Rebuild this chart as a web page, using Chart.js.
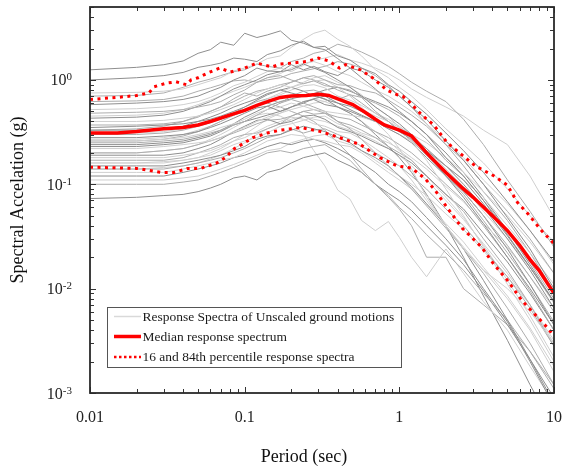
<!DOCTYPE html>
<html><head><meta charset="utf-8">
<script src="https://cdn.jsdelivr.net/npm/chart.js@4/dist/chart.umd.min.js"></script>
<style>html,body{margin:0;padding:0;background:#fff;}canvas{display:block;}</style>
</head><body>
<canvas id="c" width="562" height="468"></canvas>
<script>
// ---------- data ----------
const periods = [0.01,0.02,0.03,0.04,0.05,0.06,0.07,0.085,0.1,0.12,0.14,0.17,0.2,0.24,0.28,0.33,0.4,0.48,0.57,0.7,0.85,1,1.2,1.5,2,2.6,3.5,5,7,10];

const m01 = [1.25,1.32,1.40,1.52,1.80,1.95,2.30,2.15,2.80,2.55,2.70,2.95,2.40,2.25,2.05,2.10,1.70,1.55,1.30,1.15,0.90,0.78,0.62,0.47,0.31,0.21,0.13,0.068,0.036,0.018];
const m02 = [1.00,1.05,1.10,1.18,1.32,1.38,1.45,1.62,1.58,1.50,1.75,1.90,2.15,2.35,2.05,1.95,1.60,1.30,1.05,0.82,0.62,0.50,0.40,0.30,0.18,0.12,0.070,0.033,0.016,0.0075];
const m03 = [0.75,0.76,0.78,0.82,0.90,0.98,1.05,1.22,1.30,1.42,1.60,1.70,2.05,2.45,2.80,3.00,2.45,2.10,1.70,1.25,1.05,0.85,0.70,0.52,0.34,0.24,0.16,0.090,0.050,0.028];
const m04 = [0.70,0.71,0.75,0.85,0.95,1.02,1.10,1.20,1.25,1.42,1.35,1.30,1.50,1.62,1.80,1.90,2.20,2.05,1.85,1.60,1.35,1.15,0.95,0.78,0.62,0.42,0.24,0.11,0.055,0.025];
const m05 = [0.58,0.60,0.62,0.65,0.70,0.78,0.85,1.00,1.10,1.30,1.22,1.20,1.25,1.42,1.30,1.18,1.00,0.85,0.70,0.55,0.45,0.38,0.30,0.20,0.12,0.075,0.042,0.020,0.010,0.0045];
const m06 = [0.52,0.53,0.55,0.58,0.62,0.68,0.75,0.88,0.95,1.08,1.20,1.30,1.20,1.38,1.55,1.62,1.75,1.55,1.45,1.30,1.15,1.00,0.82,0.68,0.55,0.45,0.33,0.24,0.12,0.048];
const m07 = [0.48,0.49,0.50,0.52,0.55,0.58,0.62,0.72,0.80,0.95,1.05,1.10,1.00,0.92,0.98,0.88,0.85,0.80,0.68,0.50,0.40,0.32,0.27,0.20,0.12,0.085,0.050,0.026,0.013,0.0060];
const m08 = [0.43,0.44,0.46,0.50,0.56,0.62,0.70,0.82,0.90,1.00,1.12,1.20,1.40,1.25,1.35,1.20,1.10,1.30,1.22,1.00,0.85,0.70,0.55,0.42,0.26,0.17,0.10,0.048,0.024,0.010];
const m09 = [0.40,0.40,0.41,0.43,0.45,0.48,0.52,0.58,0.65,0.75,0.82,0.90,0.85,0.95,1.05,1.10,0.95,0.85,0.72,0.55,0.45,0.35,0.26,0.17,0.090,0.050,0.025,0.011,0.0050,0.0020];
const m10 = [0.37,0.37,0.38,0.40,0.44,0.50,0.55,0.66,0.75,0.70,0.78,0.85,0.95,1.05,1.10,1.00,0.90,0.88,0.80,0.75,0.64,0.55,0.46,0.36,0.24,0.17,0.10,0.055,0.030,0.014];
const m11 = [0.35,0.36,0.37,0.38,0.40,0.42,0.45,0.50,0.55,0.64,0.72,0.80,0.75,0.70,0.72,0.65,0.60,0.56,0.50,0.42,0.36,0.32,0.27,0.21,0.15,0.11,0.065,0.032,0.016,0.0075];
const m12 = [0.31,0.31,0.32,0.34,0.36,0.39,0.42,0.46,0.50,0.56,0.66,0.75,0.85,0.92,0.98,1.00,0.85,0.70,0.55,0.40,0.30,0.22,0.14,0.075,0.040,0.024,0.015,0.010,0.0060,0.0030];
const m13 = [0.30,0.30,0.31,0.33,0.36,0.39,0.42,0.48,0.55,0.62,0.66,0.60,0.70,0.78,0.80,0.74,0.65,0.72,0.68,0.60,0.52,0.45,0.36,0.27,0.17,0.12,0.070,0.036,0.018,0.0080];
const m14 = [0.28,0.28,0.29,0.30,0.32,0.35,0.38,0.43,0.48,0.54,0.56,0.50,0.55,0.60,0.66,0.70,0.60,0.52,0.46,0.40,0.34,0.30,0.25,0.18,0.12,0.085,0.050,0.024,0.011,0.0045];
const m15 = [0.26,0.26,0.27,0.28,0.30,0.32,0.35,0.38,0.42,0.48,0.52,0.55,0.60,0.56,0.52,0.50,0.48,0.46,0.44,0.40,0.34,0.30,0.26,0.21,0.15,0.11,0.075,0.040,0.022,0.011];
const m16 = [0.25,0.25,0.26,0.27,0.29,0.31,0.33,0.37,0.40,0.46,0.52,0.60,0.65,0.60,0.55,0.50,0.40,0.34,0.27,0.20,0.15,0.12,0.090,0.062,0.038,0.024,0.014,0.0065,0.0030,0.0012];
const m17 = [0.23,0.23,0.24,0.25,0.27,0.29,0.32,0.37,0.40,0.43,0.46,0.50,0.55,0.62,0.65,0.58,0.55,0.50,0.45,0.40,0.36,0.33,0.28,0.22,0.15,0.10,0.060,0.030,0.015,0.0065];
const m18 = [0.22,0.22,0.23,0.24,0.25,0.26,0.28,0.32,0.35,0.40,0.44,0.48,0.52,0.56,0.60,0.62,0.70,0.60,0.52,0.45,0.40,0.35,0.30,0.25,0.18,0.13,0.085,0.050,0.028,0.014];
const m19 = [0.20,0.20,0.21,0.22,0.24,0.26,0.28,0.31,0.34,0.38,0.41,0.42,0.45,0.50,0.47,0.48,0.44,0.42,0.37,0.32,0.28,0.24,0.20,0.15,0.10,0.070,0.040,0.020,0.0095,0.0040];
const m20 = [0.19,0.19,0.19,0.20,0.22,0.24,0.27,0.32,0.36,0.41,0.42,0.38,0.40,0.45,0.46,0.42,0.35,0.32,0.29,0.25,0.22,0.19,0.16,0.12,0.080,0.058,0.034,0.018,0.0090,0.0040];
const m21 = [0.18,0.18,0.18,0.19,0.20,0.21,0.23,0.26,0.28,0.32,0.36,0.40,0.44,0.42,0.38,0.36,0.32,0.31,0.27,0.22,0.18,0.15,0.11,0.070,0.040,0.025,0.015,0.0080,0.0040,0.0016];
const m22 = [0.17,0.17,0.17,0.18,0.20,0.22,0.24,0.28,0.30,0.31,0.34,0.38,0.45,0.50,0.52,0.48,0.40,0.37,0.33,0.28,0.23,0.20,0.17,0.12,0.080,0.055,0.030,0.015,0.0070,0.0028];
const m23 = [0.16,0.16,0.16,0.17,0.18,0.19,0.21,0.24,0.26,0.28,0.31,0.36,0.38,0.41,0.44,0.45,0.38,0.35,0.31,0.28,0.25,0.22,0.18,0.14,0.095,0.068,0.042,0.025,0.013,0.0065];
const m24 = [0.15,0.15,0.15,0.16,0.17,0.18,0.19,0.21,0.23,0.27,0.29,0.30,0.33,0.36,0.34,0.32,0.28,0.25,0.21,0.18,0.15,0.12,0.095,0.065,0.040,0.024,0.012,0.0050,0.0021,0.00080];
const m25 = [0.14,0.14,0.14,0.15,0.16,0.17,0.18,0.20,0.22,0.25,0.28,0.30,0.34,0.31,0.33,0.34,0.30,0.27,0.23,0.20,0.17,0.15,0.12,0.090,0.058,0.040,0.024,0.013,0.0065,0.0028];
const m26 = [0.13,0.13,0.13,0.14,0.15,0.16,0.17,0.18,0.20,0.23,0.26,0.28,0.30,0.29,0.27,0.26,0.24,0.23,0.20,0.16,0.13,0.11,0.090,0.065,0.042,0.028,0.016,0.0085,0.0042,0.0018];
const m27 = [0.12,0.12,0.12,0.13,0.14,0.15,0.16,0.18,0.19,0.21,0.23,0.25,0.24,0.26,0.27,0.25,0.22,0.19,0.16,0.13,0.10,0.085,0.068,0.048,0.030,0.019,0.010,0.0048,0.0020,0.00075];
const m28 = [0.11,0.11,0.11,0.115,0.12,0.13,0.14,0.155,0.17,0.19,0.21,0.22,0.25,0.27,0.29,0.30,0.26,0.24,0.21,0.17,0.14,0.12,0.10,0.078,0.052,0.037,0.023,0.013,0.0070,0.0032];
const m29 = [0.10,0.10,0.10,0.105,0.11,0.12,0.13,0.145,0.16,0.18,0.20,0.21,0.20,0.22,0.23,0.24,0.20,0.17,0.13,0.10,0.078,0.060,0.047,0.033,0.022,0.015,0.0090,0.0050,0.0025,0.0011];
const m30 = [0.073,0.075,0.078,0.080,0.085,0.092,0.10,0.115,0.12,0.11,0.13,0.14,0.16,0.18,0.19,0.20,0.17,0.15,0.13,0.10,0.082,0.070,0.056,0.040,0.026,0.017,0.0095,0.0045,0.0021,0.00090];
const m31 = [0.20,0.20,0.21,0.22,0.24,0.27,0.30,0.35,0.40,0.46,0.48,0.45,0.40,0.30,0.21,0.15,0.088,0.072,0.045,0.036,0.044,0.031,0.020,0.013,0.024,0.014,0.0075,0.0040,0.0018,0.00080];
const m32 = [0.26,0.26,0.27,0.29,0.32,0.36,0.40,0.46,0.50,0.58,0.60,0.55,0.50,0.45,0.40,0.33,0.25,0.19,0.14,0.10,0.075,0.058,0.040,0.020,0.020,0.0100,0.0070,0.0045,0.0025,0.0012];
const m33 = [0.33,0.33,0.34,0.36,0.40,0.44,0.48,0.55,0.60,0.66,0.74,0.80,0.85,0.78,0.70,0.66,0.55,0.48,0.40,0.30,0.23,0.18,0.13,0.080,0.040,0.020,0.0085,0.0032,0.0012,0.00045];
const m34 = [0.45,0.46,0.48,0.52,0.58,0.64,0.70,0.78,0.85,0.95,1.05,1.15,1.30,1.45,1.50,1.38,1.20,1.10,0.95,0.80,0.70,0.60,0.50,0.38,0.26,0.18,0.11,0.065,0.036,0.017];
const m35 = [0.62,0.63,0.65,0.70,0.78,0.84,0.90,0.98,1.00,0.95,1.00,1.05,1.15,1.22,1.28,1.35,1.50,1.42,1.30,1.10,0.88,0.70,0.55,0.38,0.24,0.15,0.085,0.045,0.022,0.0095];
const m36 = [0.27,0.27,0.28,0.30,0.33,0.36,0.40,0.46,0.52,0.58,0.66,0.72,0.80,0.88,0.90,0.84,0.70,0.64,0.57,0.48,0.42,0.36,0.30,0.22,0.14,0.095,0.055,0.030,0.016,0.0072];
const m37 = [0.33,0.34,0.36,0.40,0.45,0.50,0.55,0.62,0.70,0.78,0.82,0.90,0.95,1.05,1.00,0.92,0.80,0.72,0.60,0.48,0.40,0.33,0.26,0.19,0.12,0.080,0.045,0.022,0.011,0.0048];
const m38 = [0.16,0.16,0.165,0.17,0.18,0.20,0.22,0.26,0.30,0.36,0.42,0.48,0.55,0.62,0.66,0.62,0.55,0.48,0.40,0.32,0.26,0.21,0.17,0.12,0.075,0.048,0.026,0.012,0.0055,0.0022];
const m39 = [0.24,0.24,0.25,0.26,0.28,0.30,0.33,0.38,0.44,0.50,0.56,0.62,0.66,0.70,0.74,0.80,0.85,0.78,0.70,0.62,0.55,0.48,0.40,0.30,0.20,0.13,0.075,0.036,0.017,0.0075];
const m40 = [0.14,0.14,0.145,0.15,0.16,0.175,0.19,0.22,0.25,0.30,0.34,0.38,0.42,0.45,0.42,0.40,0.36,0.33,0.30,0.26,0.22,0.19,0.15,0.11,0.070,0.046,0.027,0.014,0.0070,0.0030];

const groundMotions = [m01,m02,m03,m04,m05,m06,m07,m08,m09,m10,m11,m12,m13,m14,m15,m16,m17,m18,m19,m20,
                       m21,m22,m23,m24,m25,m26,m27,m28,m29,m30,m31,m32,m33,m34,m35,m36,m37,m38,m39,m40];

const medianPeriods = [0.01,0.015,0.02,0.03,0.04,0.05,0.06,0.07,0.08,0.1,0.12,0.15,0.17,0.2,0.25,0.3,0.35,0.4,0.5,0.6,0.7,0.8,1,1.2,1.5,2,2.5,3,4,5,6,7,8,10];
const medianValues  = [0.31,0.31,0.32,0.34,0.35,0.37,0.40,0.43,0.46,0.51,0.57,0.64,0.68,0.70,0.71,0.73,0.71,0.66,0.58,0.49,0.42,0.37,0.33,0.29,0.20,0.13,0.095,0.075,0.050,0.036,0.026,0.019,0.015,0.009];

const upperPeriods = [0.01,0.015,0.02,0.024,0.026,0.031,0.036,0.042,0.045,0.05,0.058,0.069,0.081,0.1,0.12,0.15,0.17,0.2,0.25,0.3,0.35,0.41,0.45,0.56,0.67,0.83,0.97,1.05,1.17,1.4,1.67,2.04,2.55,3.1,4.1,5,5.8,6.8,8.3,10];
const upperValues  = [0.65,0.68,0.71,0.75,0.86,0.93,0.96,0.90,1.00,1.05,1.17,1.30,1.19,1.30,1.45,1.33,1.42,1.45,1.50,1.62,1.52,1.30,1.40,1.25,1.05,0.80,0.72,0.70,0.61,0.46,0.37,0.25,0.19,0.15,0.12,0.098,0.067,0.052,0.036,0.027];

const lowerPeriods = [0.01,0.02,0.029,0.035,0.043,0.052,0.066,0.075,0.086,0.1,0.113,0.14,0.17,0.23,0.31,0.41,0.56,0.75,0.97,1.2,1.46,1.7,2.0,2.55,3.4,4.1,5,6.2,7.5,9.1,10];
const lowerValues  = [0.146,0.142,0.13,0.13,0.142,0.142,0.16,0.18,0.22,0.25,0.28,0.31,0.33,0.35,0.32,0.28,0.24,0.18,0.15,0.143,0.114,0.088,0.062,0.038,0.025,0.017,0.012,0.0077,0.0057,0.0042,0.0035];

const xTickValues = [0.01,0.1,1,10];
const xTickLabels = ['0.01','0.1','1','10'];
const yTickValues = [0.001,0.01,0.1,1];
const yTickExponents = ['-3','-2','-1','0'];

const legendLabels = ['Response Spectra of Unscaled ground motions','Median response spectrum','16 and 84th percentile response spectra'];
const xTitle = 'Period (sec)';
const yTitle = 'Spectral Accelation (g)';

// ---------- styles ----------
const SERIF = '"Liberation Serif", "DejaVu Serif", serif';
const DARK = '#8e8e8e', MED = '#adadad', LIGHT = '#cfcfcf';
const motionShades = [DARK,DARK,LIGHT,MED,DARK,LIGHT,MED,DARK,LIGHT,MED,DARK,LIGHT,MED,DARK,LIGHT,MED,DARK,LIGHT,
                      MED,DARK,LIGHT,MED,LIGHT,DARK,MED,LIGHT,DARK,LIGHT,MED,DARK,LIGHT,MED,DARK,LIGHT,MED,LIGHT,
                      MED,LIGHT,DARK,LIGHT];
const RED = '#ff0000';

const pts = (xs, ys) => xs.map((p, i) => ({x: p, y: ys[i]}));

const datasets = [
  {label: legendLabels[1], data: pts(medianPeriods, medianValues), borderColor: RED, borderWidth: 3.5, order: 0},
  {label: legendLabels[2], data: pts(upperPeriods, upperValues), borderColor: RED, borderWidth: 3, borderDash: [3, 4.5], borderCapStyle: 'butt', order: 0},
  {label: legendLabels[2], data: pts(lowerPeriods, lowerValues), borderColor: RED, borderWidth: 3, borderDash: [3, 4.5], borderCapStyle: 'butt', order: 0}
];
groundMotions.forEach((m, k) => {
  datasets.push({label: legendLabels[0], data: pts(periods, m), borderColor: motionShades[k], borderWidth: 1, order: 1});
});

const legendItems = [
  {text: legendLabels[0], color: '#d9d9d9', width: 1.5, dash: []},
  {text: legendLabels[1], color: RED, width: 3.5, dash: []},
  {text: legendLabels[2], color: RED, width: 2.5, dash: [2.5, 2.5]}
];

const decor = {
  id: 'decor',
  afterDatasetsDraw(chart) {
    const {ctx, chartArea: a, scales: {x, y}} = chart;
    ctx.save();
    ctx.strokeStyle = '#333';
    ctx.lineWidth = 1;
    ctx.beginPath();
    for (let e = -2; e <= 1; e++) {
      for (let m = 1; m <= 9; m++) {
        const v = m * Math.pow(10, e);
        if (v > 10.0001) break;
        const px = Math.round(x.getPixelForValue(v)) + 0.5;
        const len = m === 1 ? 6 : 4;
        ctx.moveTo(px, a.bottom); ctx.lineTo(px, a.bottom - len);
        ctx.moveTo(px, a.top); ctx.lineTo(px, a.top + len);
      }
    }
    for (let e = -3; e <= 0; e++) {
      for (let m = 1; m <= 9; m++) {
        const v = m * Math.pow(10, e);
        if (v > 5.0001) break;
        const py = Math.round(y.getPixelForValue(v)) + 0.5;
        const len = m === 1 ? 6 : 4;
        ctx.moveTo(a.left, py); ctx.lineTo(a.left + len, py);
        ctx.moveTo(a.right, py); ctx.lineTo(a.right - len, py);
      }
    }
    ctx.stroke();
    ctx.lineWidth = 1.8;
    ctx.strokeStyle = '#2a2a2a';
    ctx.strokeRect(a.left, a.top, a.right - a.left, a.bottom - a.top);

    // y tick labels: 10 with superscript exponent
    ctx.fillStyle = '#222';
    ctx.textBaseline = 'alphabetic';
    ctx.textAlign = 'left';
    const rightEdge = a.left - 18;
    yTickValues.forEach((v, i) => {
      const py = y.getPixelForValue(v);
      ctx.font = '11px ' + SERIF;
      const ew = ctx.measureText(yTickExponents[i]).width;
      ctx.font = '16px ' + SERIF;
      const bw = ctx.measureText('10').width;
      const x0 = rightEdge - ew - bw;
      ctx.fillText('10', x0, py + 5.5);
      ctx.font = '11px ' + SERIF;
      ctx.fillText(yTickExponents[i], x0 + bw, py + 0.5);
    });

    // x axis title
    ctx.font = '18px ' + SERIF;
    ctx.fillStyle = '#111';
    ctx.textAlign = 'center';
    ctx.textBaseline = 'middle';
    ctx.fillText(xTitle, 304, 457);
    ctx.restore();
  },
  afterDraw(chart) {
    const {ctx} = chart;
    const box = {l: 107.5, t: 307.5, r: 401.5, b: 367.5};
    ctx.save();
    ctx.fillStyle = '#fff';
    ctx.fillRect(box.l, box.t, box.r - box.l, box.b - box.t);
    ctx.strokeStyle = '#555';
    ctx.lineWidth = 1;
    ctx.strokeRect(box.l, box.t, box.r - box.l, box.b - box.t);
    let fs = 14;
    ctx.font = fs + 'px ' + SERIF;
    const w0 = ctx.measureText(legendItems[0].text).width;
    fs = fs * 252 / w0;
    ctx.font = fs.toFixed(2) + 'px ' + SERIF;
    ctx.textBaseline = 'middle';
    ctx.fillStyle = '#1a1a1a';
    const rows = [316.5, 336.5, 357];
    legendItems.forEach((it, i) => {
      ctx.beginPath();
      ctx.strokeStyle = it.color;
      ctx.lineWidth = it.width;
      ctx.setLineDash(it.dash);
      ctx.moveTo(114, rows[i]);
      ctx.lineTo(141, rows[i]);
      ctx.stroke();
      ctx.setLineDash([]);
      ctx.fillText(it.text, 142.5, rows[i] + 0.5);
    });
    ctx.restore();
  }
};

const labelFor = v => {
  const i = xTickValues.findIndex(t => Math.abs(t - v) / t < 1e-6);
  return i >= 0 ? xTickLabels[i] : '';
};

new Chart(document.getElementById('c'), {
  type: 'line',
  data: {datasets},
  options: {
    responsive: false,
    animation: false,
    devicePixelRatio: 1,
    layout: {padding: {top: 7, right: 8, left: 0, bottom: 0}},
    elements: {line: {tension: 0, fill: false}, point: {radius: 0, hoverRadius: 0}},
    plugins: {legend: {display: false}, tooltip: {enabled: false}},
    events: [],
    scales: {
      x: {
        type: 'logarithmic', min: 0.01, max: 10,
        afterBuildTicks: s => { s.ticks = xTickValues.map(v => ({value: v})); },
        afterFit: s => { s.height = 75; s.paddingLeft = 0; s.paddingRight = 0; },
        ticks: {callback: v => labelFor(v), font: {family: SERIF, size: 16}, color: '#222', padding: 15, maxRotation: 0, autoSkip: false},
        grid: {display: false, drawTicks: false},
        border: {display: false},
        title: {display: false, text: xTitle}
      },
      y: {
        type: 'logarithmic', min: 0.001, max: 5,
        afterBuildTicks: s => { s.ticks = yTickValues.map(v => ({value: v})); },
        afterFit: s => { s.width = 90; },
        ticks: {display: false},
        grid: {display: false, drawTicks: false},
        border: {display: false},
        title: {display: true, text: yTitle, font: {family: SERIF, size: 18}, color: '#111', padding: {top: 7, bottom: 0}}
      }
    }
  },
  plugins: [decor]
});
</script>
</body></html>
